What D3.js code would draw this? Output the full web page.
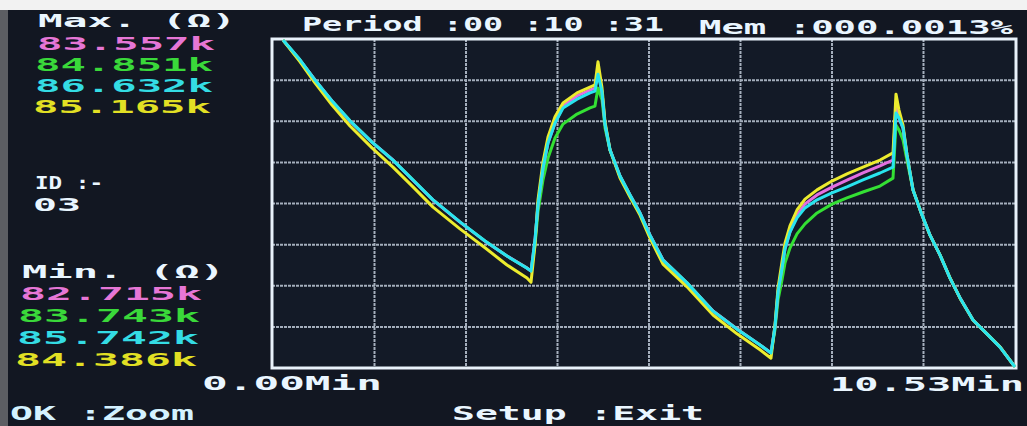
<!DOCTYPE html>
<html>
<head>
<meta charset="utf-8">
<script src="https://cdn.jsdelivr.net/npm/d3@7"></script>
<style>
  html, body { margin: 0; padding: 0; background: #121722; overflow: hidden; }
  svg { display: block; }
</style>
</head>
<body>
<svg id="chart" width="1027" height="426"></svg>
<script>
// Elapsed time of each sample, minutes
const minutes = [0, 0.245, 0.460, 0.705, 0.964, 1.280, 1.582, 1.870, 2.158, 2.546, 2.906, 3.222, 3.510, 3.568, 3.625, 3.668, 3.740, 3.812, 3.913, 4.028, 4.229, 4.416, 4.488, 4.531, 4.589, 4.632, 4.704, 4.848, 4.992, 5.135, 5.279, 5.466, 5.812, 6.186, 6.531, 6.862, 7.020, 7.077, 7.121, 7.178, 7.221, 7.293, 7.394, 7.509, 7.682, 7.897, 8.113, 8.343, 8.588, 8.775, 8.818, 8.861, 8.919, 8.976, 9.063, 9.192, 9.307, 9.451, 9.595, 9.739, 9.926, 10.127, 10.314, 10.530];

// Resistance of each channel, kΩ
const channel1 = [83.557, 83.505, 83.454, 83.400, 83.348, 83.294, 83.248, 83.196, 83.145, 83.088, 83.039, 83.001, 82.970, 82.962, 83.042, 83.132, 83.227, 83.292, 83.343, 83.387, 83.413, 83.428, 83.433, 83.480, 83.423, 83.341, 83.274, 83.207, 83.158, 83.112, 83.055, 82.991, 82.931, 82.859, 82.813, 82.772, 82.751, 82.818, 82.908, 82.970, 83.019, 83.063, 83.106, 83.135, 83.158, 83.178, 83.196, 83.215, 83.233, 83.248, 83.390, 83.356, 83.330, 83.261, 83.171, 83.106, 83.055, 83.003, 82.944, 82.893, 82.836, 82.800, 82.767, 82.715];
const channel2 = [84.851, 84.783, 84.716, 84.644, 84.577, 84.505, 84.444, 84.377, 84.309, 84.234, 84.170, 84.119, 84.079, 84.068, 84.156, 84.268, 84.377, 84.451, 84.519, 84.566, 84.600, 84.621, 84.627, 84.688, 84.648, 84.553, 84.478, 84.390, 84.326, 84.265, 84.190, 84.106, 84.028, 83.933, 83.872, 83.818, 83.790, 83.868, 83.970, 84.038, 84.095, 84.146, 84.194, 84.228, 84.265, 84.295, 84.316, 84.336, 84.356, 84.383, 84.563, 84.546, 84.512, 84.444, 84.343, 84.258, 84.190, 84.123, 84.045, 83.977, 83.902, 83.855, 83.811, 83.743];
const channel3 = [86.632, 86.578, 86.523, 86.466, 86.412, 86.354, 86.305, 86.251, 86.197, 86.137, 86.085, 86.044, 86.011, 86.003, 86.088, 86.183, 86.284, 86.352, 86.406, 86.447, 86.471, 86.488, 86.493, 86.539, 86.490, 86.403, 86.333, 86.262, 86.210, 86.161, 86.101, 86.033, 85.971, 85.894, 85.845, 85.802, 85.780, 85.851, 85.946, 86.011, 86.063, 86.109, 86.148, 86.175, 86.197, 86.216, 86.232, 86.251, 86.270, 86.286, 86.433, 86.420, 86.393, 86.319, 86.224, 86.156, 86.101, 86.047, 85.984, 85.930, 85.870, 85.832, 85.796, 85.742];
const channel4 = [85.165, 85.113, 85.063, 85.010, 84.960, 84.908, 84.862, 84.815, 84.767, 84.715, 84.670, 84.629, 84.598, 84.588, 84.677, 84.784, 84.874, 84.934, 84.982, 85.015, 85.039, 85.053, 85.058, 85.113, 85.051, 84.970, 84.903, 84.836, 84.791, 84.748, 84.693, 84.631, 84.577, 84.510, 84.465, 84.427, 84.407, 84.486, 84.574, 84.636, 84.681, 84.722, 84.760, 84.786, 84.808, 84.829, 84.846, 84.862, 84.879, 84.896, 85.036, 84.998, 84.962, 84.891, 84.808, 84.748, 84.700, 84.653, 84.598, 84.550, 84.498, 84.465, 84.434, 84.386];

// Per-channel extremes shown in the side panel, kΩ
const maxValues = [83.557, 84.851, 86.632, 85.165];
const minValues = [82.715, 83.743, 85.742, 84.386];
const channelColors = ["#e46ee0", "#34e034", "#28e4ee", "#ecec2e"];
const textColors = ["#e676d6", "#3ad83a", "#34dce4", "#e2e024"];

// Header / footer strings
const periodText = "Period :00 :10 :31";
const memText = "Mem :000.0013%";
const idLines = ["ID :-", "03"];
const timeStart = 0.00;
const timeEnd = 10.53;
const footerLeft = "OK :Zoom";
const footerMid = "Setup :Exit";

const series = [channel1, channel2, channel3, channel4];

const svg = d3.select("#chart");
const W = 1027, H = 426;
const frame = { left: 272, right: 1016, top: 39, bottom: 368 };

// screen bezel bits at the edges
svg.append("rect").attr("width", W).attr("height", H).attr("fill", "#121722");
svg.append("rect").attr("x", 0).attr("y", 0).attr("width", W).attr("height", 10).attr("fill", "#f2f2f2");
svg.append("rect").attr("x", 0).attr("y", 10).attr("width", 8).attr("height", H - 10).attr("fill", "#5c5e63");

// scales
const x = d3.scaleLinear().domain([timeStart, timeEnd]).range([283, 1015]);
const gridY = d3.scaleLinear().domain([0, 8]).range([frame.bottom, frame.top]);
const yScales = series.map((_, i) =>
  d3.scaleLinear().domain([minValues[i], maxValues[i]]).range([367, 40]));

// plot background
svg.append("rect")
  .attr("x", frame.left).attr("y", frame.top)
  .attr("width", frame.right - frame.left).attr("height", frame.bottom - frame.top)
  .attr("fill", "#131a27");

// grid: 8 x 8 divisions
const grid = svg.append("g").attr("stroke", "#bfcad8").attr("stroke-width", 2)
  .attr("stroke-dasharray", "3 1").attr("opacity", 0.85);
d3.range(1, 8).forEach(i => {
  const gx = x(timeStart + (timeEnd - timeStart) * i / 8);
  grid.append("line").attr("x1", gx).attr("x2", gx)
    .attr("y1", frame.top).attr("y2", frame.bottom);
  const gy = gridY(i);
  grid.append("line").attr("x1", frame.left).attr("x2", frame.right)
    .attr("y1", gy).attr("y2", gy);
});

// frame
svg.append("rect")
  .attr("x", frame.left).attr("y", frame.top)
  .attr("width", frame.right - frame.left).attr("height", frame.bottom - frame.top)
  .attr("fill", "none").attr("stroke", "#e9f2fb").attr("stroke-width", 3);

// traces
const drawOrder = [1, 0, 3, 2];
drawOrder.forEach(i => {
  const line = d3.line()
    .x((d, j) => x(minutes[j]))
    .y(d => yScales[i](d));
  svg.append("path")
    .datum(series[i])
    .attr("d", line)
    .attr("fill", "none")
    .attr("stroke", channelColors[i])
    .attr("stroke-width", 3)
    .attr("stroke-linejoin", "round");
});

// text helper
function label(txt, x0, y0, len, color, size) {
  svg.append("text")
    .attr("x", x0).attr("y", y0)
    .attr("textLength", len).attr("lengthAdjust", "spacingAndGlyphs")
    .attr("font-family", "DejaVu Sans Mono")
    .attr("font-weight", "bold")
    .attr("font-size", size || 20)
    .attr("fill", color)
    .text(txt);
}

const white = "#eaf6ff";
const fmt = v => d3.format(".3f")(v) + "k";
const rowSize = 17.5;

// header
label(periodText, 302, 31, 362, white);
label(memText, 699, 34, 314, white);

// max panel
label("Max. (Ω)", 38, 27, 198, white, rowSize);
const maxPos = [[37, 50], [35, 71], [35, 92], [33, 113]];
maxValues.forEach((v, i) => label(fmt(v), maxPos[i][0], maxPos[i][1], 178, textColors[i], rowSize));

// id
label(idLines[0], 35, 189, 68, white, rowSize);
label(idLines[1], 33, 211, 48, white, rowSize);

// min panel
label("Min. (Ω)", 22, 278, 203, white, rowSize);
const minPos = [[20, 300], [18, 322], [17, 344], [15, 366]];
minValues.forEach((v, i) => label(fmt(v), minPos[i][0], minPos[i][1], 182, textColors[i], rowSize));

// time axis ends
label(d3.format(".2f")(timeStart) + "Min", 202, 390, 180, white);
label(d3.format(".2f")(timeEnd) + "Min", 830, 391, 194, white);

// footer
label(footerLeft, 10, 420, 184, "#d4f2ff");
label(footerMid, 452, 420, 252, white);
</script>
</body>
</html>
